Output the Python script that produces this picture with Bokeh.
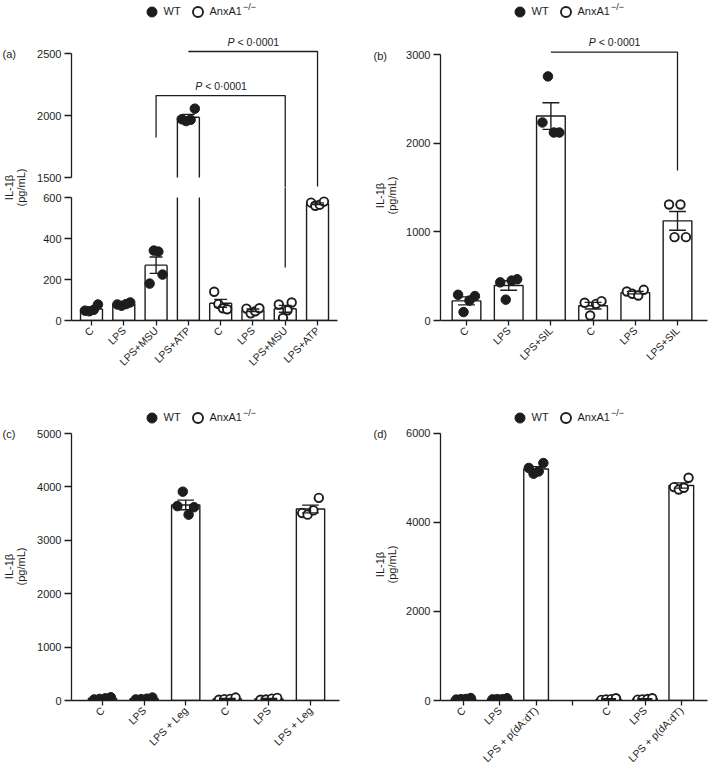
import numpy as np
from math import pi
from bokeh.plotting import figure
from bokeh.layouts import row, column
from bokeh.models import Range1d, LinearAxis, FixedTicker, Label, Legend, LegendItem
from bokeh.embed import file_html
from bokeh.resources import INLINE

FONT = "Liberation Sans"
INK = "#1d1d1d"

# ====================== data ======================
# panel (a)  -- broken y axis (0-600 / 1500-2500)
a_labels = ["C", "LPS", "LPS+MSU", "LPS+ATP", "C", "LPS", "LPS+MSU", "LPS+ATP"]
a_wt_pos = [1, 2, 3, 4]
a_ko_pos = [5, 6, 7, 8]
a_wt_mean = [56, 80, 270, 1986]
a_wt_sem = [7, 3, 40, 23]
a_ko_mean = [84, 50, 57, 570]
a_ko_sem = [19, 6, 17, 4]
a_wt_pts = [[48, 45, 52, 78], [78, 72, 80, 88], [180, 341, 336, 224], [1970, 1955, 1965, 2055]]
a_ko_pts = [[140, 80, 60, 55], [58, 35, 45, 60], [78, 12, 50, 88], [575, 560, 565, 580]]
a_ticks_low = [0, 200, 400, 600]
a_ticks_up = [1500, 2000, 2500]
a_break_lo, a_break_hi = 600, 1500
# significance brackets: groups, bar height, left-leg end (upper axis), right-leg end
a_brk_left = [3, 4]
a_brk_right = [7, 8]
a_brk_top = [2161, 2516]
a_brk_lend = [1823, 2516]
a_brk_rend = [258, 1427]
a_brk_rend_low = [True, False]   # right-leg end read on the lower (0-600) axis?

# panel (b)
b_labels = ["C", "LPS", "LPS+SIL", "C", "LPS", "LPS+SIL"]
b_wt_pos = [1, 2, 3]
b_ko_pos = [4, 5, 6]
b_wt_mean = [221, 395, 2306]
b_wt_sem = [45, 53, 150]
b_ko_mean = [167, 314, 1124]
b_ko_sem = [37, 14, 106]
b_wt_pts = [[290, 95, 225, 275], [430, 235, 450, 465], [2233, 2753, 2120, 2120]]
b_ko_pts = [[200, 56, 188, 218], [327, 301, 282, 346], [1308, 940, 1308, 940]]
b_ticks = [0, 1000, 2000, 3000]
b_brk_left = [3]
b_brk_right = [6]
b_brk_top = [3026]
b_brk_lend = [3026]
b_brk_rend = [1691]

# panel (c)
c_labels = ["C", "LPS", "LPS + Leg", "C", "LPS", "LPS + Leg"]
c_wt_pos = [1, 2, 3]
c_ko_pos = [4, 5, 6]
c_wt_mean = [38, 34, 3662]
c_wt_sem = [8, 8, 90]
c_ko_mean = [31, 30, 3586]
c_ko_sem = [8, 7, 72]
c_wt_pts = [[20, 30, 40, 60], [20, 25, 35, 55], [3640, 3910, 3480, 3620]]
c_ko_pts = [[15, 25, 30, 55], [15, 20, 35, 50], [3510, 3480, 3560, 3795]]
c_ticks = [0, 1000, 2000, 3000, 4000, 5000]

# panel (d)
d_labels = ["C", "LPS", "LPS + p(dA:dT)", "", "C", "LPS", "LPS + p(dA:dT)"]
d_wt_pos = [1, 2, 3]
d_ko_pos = [5, 6, 7]
d_wt_mean = [35, 34, 5195]
d_wt_sem = [8, 6, 54]
d_ko_mean = [30, 32, 4825]
d_ko_sem = [9, 8, 59]
d_wt_pts = [[20, 30, 35, 55], [25, 30, 30, 50], [5220, 5090, 5140, 5330]]
d_ko_pts = [[15, 25, 30, 50], [20, 25, 35, 50], [4790, 4735, 4775, 5000]]
d_ticks = [0, 2000, 4000, 6000]

# ====================== layout (pixels from the layout's top-left) ======================
BAR_W = 0.68
CAP = 0.2
JIT = [-0.2, -0.07, 0.07, 0.2]
XFONT = "10.5px"
ROW1_H, ROW2_H = 385, 388

# cl/ct/w/h: canvas; fl/fr/ft/fb: frame; x1: pixel of category 1, xs: px per category;
# (yv, ypx): a value and its pixel row, ys: px per unit
G_AU = dict(cl=28, ct=0, w=328, h=187, fl=71, fr=337, ft=0, fb=187,
            x1=91, xs=32.29, yv=1500, ypx=177, ys=124 / 1000)
G_AL = dict(cl=28, ct=187, w=328, h=ROW1_H - 187, fl=71, fr=337, ft=187, fb=320,
            x1=91, xs=32.29, yv=0, ypx=320, ys=123 / 600)
G_B = dict(cl=400, ct=0, w=309, h=ROW1_H, fl=440, fr=707, ft=0, fb=320,
           x1=466, xs=42.2, yv=0, ypx=320, ys=266 / 3000)
G_C = dict(cl=28, ct=ROW1_H, w=328, h=ROW2_H, fl=71, fr=339, ft=ROW1_H, fb=700,
           x1=102, xs=41.6, yv=0, ypx=700, ys=267 / 5000)
G_D = dict(cl=400, ct=ROW1_H, w=309, h=ROW2_H, fl=440, fr=707, ft=ROW1_H, fb=700,
           x1=463, xs=36.3, yv=0, ypx=700, ys=267.3 / 6000)


def x_range_of(g):
    return Range1d(1 + (g["fl"] - g["x1"]) / g["xs"], 1 + (g["fr"] - g["x1"]) / g["xs"])


def y_range_of(g):
    return Range1d(g["yv"] - (g["fb"] - g["ypx"]) / g["ys"], g["yv"] + (g["ypx"] - g["ft"]) / g["ys"])


def make_main(g, xr=None):
    p = figure(width=g["w"], height=g["h"],
               x_range=xr if xr is not None else x_range_of(g), y_range=y_range_of(g),
               min_border_left=g["fl"] - g["cl"], min_border_right=g["cl"] + g["w"] - g["fr"],
               min_border_top=g["ft"] - g["ct"], min_border_bottom=g["ct"] + g["h"] - g["fb"],
               x_axis_type=None, y_axis_type=None, toolbar_location=None, output_backend="svg")
    p.outline_line_color = None
    return p


def make_tag(cl, ct, w, h, fb):
    # text-only strip; its frame spans the same rows as the neighbouring plot frame
    p = figure(width=w, height=h, x_range=Range1d(0, 1), y_range=Range1d(0, 1),
               min_border_left=0, min_border_right=0, min_border_top=0,
               min_border_bottom=ct + h - fb,
               x_axis_type=None, y_axis_type=None, toolbar_location=None, output_backend="svg")
    p.outline_line_color = None
    p._geo = (cl, fb)
    return p


def style_axis(ax, tick_out, size="11px"):
    ax.axis_line_color = INK
    ax.axis_line_width = 1.3
    ax.major_tick_line_color = INK
    ax.major_tick_line_width = 1.3
    ax.major_tick_in = 0
    ax.major_tick_out = tick_out
    ax.minor_tick_line_color = None
    ax.major_label_text_font = FONT
    ax.major_label_text_font_size = size
    ax.major_label_text_color = INK
    ax.major_label_standoff = 3


def add_yaxis(p, ticks, bounds):
    ax = LinearAxis(bounds=bounds, ticker=FixedTicker(ticks=ticks))
    style_axis(ax, 7)
    p.add_layout(ax, "left")


def add_xaxis(p, labels):
    pos = list(range(1, len(labels) + 1))
    ax = LinearAxis(ticker=FixedTicker(ticks=pos),
                    major_label_overrides={i: l for i, l in zip(pos, labels)},
                    major_label_orientation=pi / 4)
    style_axis(ax, 5, XFONT)
    p.add_layout(ax, "below")


def draw_bars(p, pos, mean):
    p.vbar(x=pos, width=BAR_W, bottom=0, top=mean, fill_color="white",
           line_color=INK, line_width=1.4)


def draw_bar_outlines(p, pos, mean, lo_clip, hi_clip):
    # bar outlines for one segment of a broken axis: edges stop at the break
    x = np.asarray(pos, float)
    m = np.asarray(mean, float)
    xl, xr = x - BAR_W / 2, x + BAR_W / 2
    kw = dict(line_color=INK, line_width=1.4)
    vis = m > lo_clip
    y0 = max(0.0, lo_clip)
    y1 = np.minimum(m, hi_clip)
    p.segment(xl[vis], y0, xl[vis], y1[vis], **kw)
    p.segment(xr[vis], y0, xr[vis], y1[vis], **kw)
    top_vis = vis & (m <= hi_clip)
    p.segment(xl[top_vis], m[top_vis], xr[top_vis], m[top_vis], **kw)
    if lo_clip <= 0:
        p.segment(xl, 0, xr, 0, **kw)


def draw_points(p, pos, sem, mean, pts, filled):
    xs, ys = [], []
    for xi, vals in zip(pos, pts):
        for j, v in enumerate(vals):
            xs.append(xi + JIT[j % len(JIT)])
            ys.append(v)
    if filled:
        r = p.scatter(xs, ys, size=9.5, marker="circle", fill_color=INK,
                      line_color=INK, line_width=1)
    else:
        r = p.scatter(xs, ys, size=8.5, marker="circle", fill_color="white",
                      line_color=INK, line_width=1.9)
    x = np.asarray(pos, float)
    m = np.asarray(mean, float)
    s = np.asarray(sem, float)
    lo, hi = m - s, m + s
    kw = dict(line_color=INK, line_width=1.4)
    p.segment(x, lo, x, hi, **kw)
    p.segment(x - CAP, hi, x + CAP, hi, **kw)
    p.segment(x - CAP, lo, x + CAP, lo, **kw)
    return r


def frame_text(p, g, px, py, text, size="11px", align="left", baseline="middle"):
    p.add_layout(Label(x=px - g["fl"], y=g["fb"] - py, x_units="screen", y_units="screen",
                       text=text, text_font=FONT, text_font_size=size, text_color=INK,
                       text_align=align, text_baseline=baseline))


def tag_text(t, px, py, text, angle=0.0, align="left"):
    cl, fb = t._geo
    t.add_layout(Label(x=px - cl, y=fb - py, x_units="screen", y_units="screen",
                       text=text, text_font=FONT, text_font_size="11px", text_color=INK,
                       text_align=align, text_baseline="middle", angle=angle))


def p_text(p, xmid, y):
    p.add_layout(Label(x=xmid, y=y, text="P", text_font=FONT, text_font_size="10.5px",
                       text_font_style="italic", text_color=INK, x_offset=-25.5, y_offset=4,
                       text_baseline="bottom", text_align="left"))
    p.add_layout(Label(x=xmid, y=y, text="< 0·0001", text_font=FONT, text_font_size="10.5px",
                       text_color=INK, x_offset=-15.5, y_offset=4,
                       text_baseline="bottom", text_align="left"))


GW, STAND, SPACE, LW = 25, 0, 1, 20


def add_legend(p, g, r_wt, r_ko, cx1, cy):
    lx = cx1 - GW / 2
    leg = Legend(items=[LegendItem(label="WT", renderers=[r_wt]),
                        LegendItem(label="AnxA1", renderers=[r_ko])],
                 orientation="horizontal", location=(lx - g["fl"], g["fb"] - (cy + GW / 2)),
                 padding=0, margin=0, spacing=SPACE, glyph_width=GW, glyph_height=GW,
                 label_standoff=STAND, label_height=GW, label_width=LW,
                 label_text_font=FONT, label_text_font_size="11px", label_text_color=INK,
                 border_line_color=None, background_fill_alpha=0)
    p.add_layout(leg)
    x_lab2 = lx + GW + STAND + LW + SPACE + GW + STAND
    frame_text(p, g, x_lab2 + 33, cy - 4.5, "−/−", size="9px")


# ====================== panel (a) ======================
xr_a = x_range_of(G_AU)
pa_up = make_main(G_AU, xr_a)
pa_lo = make_main(G_AL, xr_a)
INF = 1e9

# upper segment (1500-2500)
draw_bar_outlines(pa_up, a_wt_pos, a_wt_mean, a_break_hi, INF)
draw_bar_outlines(pa_up, a_ko_pos, a_ko_mean, a_break_hi, INF)
ra_wt = draw_points(pa_up, a_wt_pos, a_wt_sem, a_wt_mean, a_wt_pts, True)
ra_ko = draw_points(pa_up, a_ko_pos, a_ko_sem, a_ko_mean, a_ko_pts, False)
for xl, xr, yt, yl, yr, low in zip(a_brk_left, a_brk_right, a_brk_top, a_brk_lend,
                                   a_brk_rend, a_brk_rend_low):
    y_end = pa_up.y_range.start - 100 if low else yr
    pa_up.multi_line(xs=[[xl, xl, xr, xr]], ys=[[yl, yt, yt, y_end]], line_color=INK, line_width=1.3)
    p_text(pa_up, (xl + xr) / 2, yt)
add_yaxis(pa_up, a_ticks_up, (a_break_hi, a_ticks_up[-1]))
add_legend(pa_up, G_AU, ra_wt, ra_ko, 151, 11)

# lower segment (0-600)
draw_bar_outlines(pa_lo, a_wt_pos, a_wt_mean, 0, a_break_lo)
draw_bar_outlines(pa_lo, a_ko_pos, a_ko_mean, 0, a_break_lo)
draw_points(pa_lo, a_wt_pos, a_wt_sem, a_wt_mean, a_wt_pts, True)
draw_points(pa_lo, a_ko_pos, a_ko_sem, a_ko_mean, a_ko_pts, False)
for xr, yr, low in zip(a_brk_right, a_brk_rend, a_brk_rend_low):
    if low:
        pa_lo.segment(xr, pa_lo.y_range.end + 100, xr, yr, line_color=INK, line_width=1.3)
add_yaxis(pa_lo, a_ticks_low, (0, a_break_lo))
add_xaxis(pa_lo, a_labels)

ta = make_tag(0, 0, 28, ROW1_H, 320)
tag_text(ta, 2, 53, "(a)")
tag_text(ta, 8, 187, "IL-1β", angle=pi / 2, align="center")
tag_text(ta, 20, 187, "(pg/mL)", angle=pi / 2, align="center")

# ====================== panel (b) ======================
pb = make_main(G_B)
draw_bars(pb, b_wt_pos, b_wt_mean)
draw_bars(pb, b_ko_pos, b_ko_mean)
rb_wt = draw_points(pb, b_wt_pos, b_wt_sem, b_wt_mean, b_wt_pts, True)
rb_ko = draw_points(pb, b_ko_pos, b_ko_sem, b_ko_mean, b_ko_pts, False)
for xl, xr, yt, yl, yr in zip(b_brk_left, b_brk_right, b_brk_top, b_brk_lend, b_brk_rend):
    pb.multi_line(xs=[[xl, xl, xr, xr]], ys=[[yl, yt, yt, yr]], line_color=INK, line_width=1.3)
    p_text(pb, (xl + xr) / 2, yt)
add_yaxis(pb, b_ticks, (0, b_ticks[-1]))
add_xaxis(pb, b_labels)
add_legend(pb, G_B, rb_wt, rb_ko, 519, 11)

tb = make_tag(356, 0, 44, ROW1_H, 320)
tag_text(tb, 373, 55, "(b)")
tag_text(tb, 379.5, 195, "IL-1β", angle=pi / 2, align="center")
tag_text(tb, 391, 195, "(pg/mL)", angle=pi / 2, align="center")

# ====================== panel (c) ======================
pc = make_main(G_C)
draw_bars(pc, c_wt_pos, c_wt_mean)
draw_bars(pc, c_ko_pos, c_ko_mean)
rc_wt = draw_points(pc, c_wt_pos, c_wt_sem, c_wt_mean, c_wt_pts, True)
rc_ko = draw_points(pc, c_ko_pos, c_ko_sem, c_ko_mean, c_ko_pts, False)
add_yaxis(pc, c_ticks, (0, c_ticks[-1]))
add_xaxis(pc, c_labels)
add_legend(pc, G_C, rc_wt, rc_ko, 151, 417)

tc = make_tag(0, ROW1_H, 28, ROW2_H, 700)
tag_text(tc, 2, 433, "(c)")
tag_text(tc, 8, 566, "IL-1β", angle=pi / 2, align="center")
tag_text(tc, 20, 566, "(pg/mL)", angle=pi / 2, align="center")

# ====================== panel (d) ======================
pd_ = make_main(G_D)
draw_bars(pd_, d_wt_pos, d_wt_mean)
draw_bars(pd_, d_ko_pos, d_ko_mean)
rd_wt = draw_points(pd_, d_wt_pos, d_wt_sem, d_wt_mean, d_wt_pts, True)
rd_ko = draw_points(pd_, d_ko_pos, d_ko_sem, d_ko_mean, d_ko_pts, False)
add_yaxis(pd_, d_ticks, (0, d_ticks[-1]))
add_xaxis(pd_, d_labels)
add_legend(pd_, G_D, rd_wt, rd_ko, 519, 417)

td = make_tag(356, ROW1_H, 44, ROW2_H, 700)
tag_text(td, 373, 433, "(d)")
tag_text(td, 379.5, 564, "IL-1β", angle=pi / 2, align="center")
tag_text(td, 391, 564, "(pg/mL)", angle=pi / 2, align="center")

layout = column(row(ta, column(pa_up, pa_lo), tb, pb), row(tc, pc, td, pd_))
open("out.html", "w").write(file_html(layout, INLINE))
